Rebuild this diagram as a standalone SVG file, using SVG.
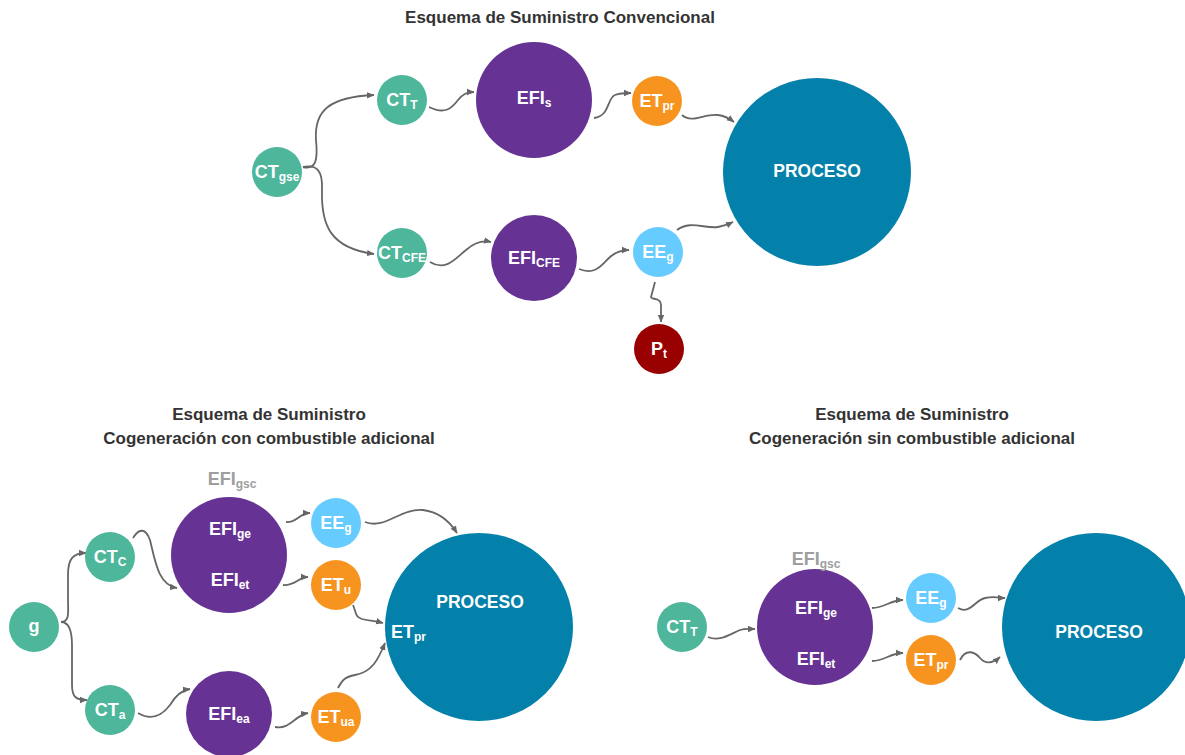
<svg xmlns="http://www.w3.org/2000/svg" width="1185" height="755" viewBox="0 0 1185 755">
<defs>
<style>
.title{font-family:"Liberation Sans",Arial,sans-serif;font-weight:bold;font-size:17px;fill:#333;text-anchor:middle}
.lbl{font-family:"Liberation Sans",Arial,sans-serif;font-weight:bold;font-size:18px;fill:#fff;text-anchor:middle}
.big{font-size:17.5px}
.gray{fill:#9e9e9e}
.sub{font-size:12px}
.teal{fill:#4db69b}
.purple{fill:#663395}
.orange{fill:#f7941f}
.blue{fill:#66ccff}
.proc{fill:#0481aa}
.red{fill:#990000}
.con path{fill:none;stroke:#666;stroke-width:1.8;marker-end:url(#arr)}
</style>
<marker id="arr" markerUnits="userSpaceOnUse" markerWidth="8" markerHeight="8" viewBox="0 0 8 8" refX="7" refY="4" orient="auto">
<path d="M0,0.8 L7.5,4 L0,7.2 Z" fill="#666"/>
</marker>
</defs>
<rect width="1185" height="755" fill="#fff"/>

<text class="title" x="560" y="23">Esquema de Suministro Convencional</text>
<text class="title" x="269" y="420">Esquema de Suministro</text>
<text class="title" x="269" y="444">Cogeneración con combustible adicional</text>
<text class="title" x="912" y="420">Esquema de Suministro</text>
<text class="title" x="912" y="444">Cogeneración sin combustible adicional</text>

<g class="con">
<path d="M303,167 C316,170 318,160 316,140 C314,110 330,97 374,95"/>
<path d="M303,167 C316,164 323,170 322,190 C321,225 330,248 374,254"/>
<path d="M429,107 C445,115 452,108 458,100 C463,94 467,92 474,92"/>
<path d="M594,118 C610,116 607,98 615,95 C620,93 625,93 631,93"/>
<path d="M682,115 C692,124 705,113 718,115 C726,116 730,119 734,122"/>
<path d="M430,262 C446,272 456,258 466,250 C474,243 482,240 491,242"/>
<path d="M579,269 C596,276 602,264 610,257 C617,251 623,250 629,250"/>
<path d="M677,230 C690,220 705,229 718,227 C725,226 729,224 733,222"/>
<path d="M655,282 L651,297 C651,300 661,297 661,305 L661,322"/>

<path d="M61,622 C70,622 68,612 68,600 L68,575 C68,560 72,553 86,553"/>
<path d="M61,622 C70,622 72,632 72,645 L72,685 C72,697 76,700 87,700"/>
<path d="M133,538 C138,530 145,526 150,540 C155,560 158,585 177,588"/>
<path d="M138,713 C150,720 160,718 170,705 C176,695 182,690 190,689"/>
<path d="M286,522 C297,523 299,513 310,513"/>
<path d="M283,585 C296,586 298,577 308,577"/>
<path d="M365,522 C385,530 400,508 423,510 C440,512 450,522 457,533"/>
<path d="M353,605 C356,612 355,617 362,619 C370,621 376,621 383,623"/>
<path d="M338,688 C342,680 345,677 355,675 C372,672 378,660 385,643"/>
<path d="M275,727 C290,730 295,715 308,713"/>

<path d="M708,637 C720,642 730,634 740,630 C746,628 750,629 755,629"/>
<path d="M872,608 C885,608 890,600 903,600"/>
<path d="M872,661 C885,661 890,653 903,653"/>
<path d="M958,608 C970,615 975,600 985,598 C995,596 1000,598 1005,598"/>
<path d="M960,660 C966,648 975,652 980,658 C985,664 992,664 1000,657"/>
</g>

<g id="top-ctgse"><circle class="teal" cx="277" cy="172" r="25"/><text class="lbl" x="277" y="178">CT<tspan class="sub" dy="3">gse</tspan></text></g>
<g id="top-ctt"><circle class="teal" cx="402" cy="100" r="25"/><text class="lbl" x="402" y="106">CT<tspan class="sub" dy="3">T</tspan></text></g>
<g id="top-efis"><circle class="purple" cx="534" cy="100" r="58"/><text class="lbl" x="534" y="104">EFI<tspan class="sub" dy="3">s</tspan></text></g>
<g id="top-etpr"><circle class="orange" cx="657" cy="101" r="25"/><text class="lbl" x="657" y="107">ET<tspan class="sub" dy="3">pr</tspan></text></g>
<g id="top-proceso"><circle class="proc" cx="817" cy="172" r="94"/><text class="lbl big" x="817" y="177">PROCESO</text></g>
<g id="top-ctcfe"><circle class="teal" cx="402" cy="253" r="25"/><text class="lbl" x="402" y="259">CT<tspan class="sub" dy="3">CFE</tspan></text></g>
<g id="top-eficfe"><circle class="purple" cx="534" cy="258" r="43"/><text class="lbl" x="534" y="264">EFI<tspan class="sub" dy="3">CFE</tspan></text></g>
<g id="top-eeg"><circle class="blue" cx="658" cy="252" r="25"/><text class="lbl" x="658" y="258">EE<tspan class="sub" dy="3">g</tspan></text></g>
<g id="top-pt"><circle class="red" cx="659" cy="349" r="25"/><text class="lbl" x="659" y="355">P<tspan class="sub" dy="3">t</tspan></text></g>

<g id="bl-g"><circle class="teal" cx="34" cy="627" r="25"/><text class="lbl" x="34" y="632">g</text></g>
<g id="bl-ctc"><circle class="teal" cx="110" cy="557" r="25"/><text class="lbl" x="110" y="563">CT<tspan class="sub" dy="3">C</tspan></text></g>
<g id="bl-cta"><circle class="teal" cx="110" cy="710" r="25"/><text class="lbl" x="110" y="716">CT<tspan class="sub" dy="3">a</tspan></text></g>
<g id="bl-efigsc"><circle class="purple" cx="229" cy="555" r="58"/>
<text class="lbl gray" x="232" y="485">EFI<tspan class="sub" dy="3">gsc</tspan></text>
<text class="lbl" x="230" y="535">EFI<tspan class="sub" dy="3">ge</tspan></text>
<text class="lbl" x="230" y="586">EFI<tspan class="sub" dy="3">et</tspan></text></g>
<g id="bl-efiea"><circle class="purple" cx="229" cy="714" r="43"/><text class="lbl" x="229" y="720">EFI<tspan class="sub" dy="3">ea</tspan></text></g>
<g id="bl-eeg"><circle class="blue" cx="336" cy="523" r="25"/><text class="lbl" x="336" y="529">EE<tspan class="sub" dy="3">g</tspan></text></g>
<g id="bl-etu"><circle class="orange" cx="336" cy="585" r="25"/><text class="lbl" x="336" y="591">ET<tspan class="sub" dy="3">u</tspan></text></g>
<g id="bl-etua"><circle class="orange" cx="336" cy="717" r="25"/><text class="lbl" x="336" y="723">ET<tspan class="sub" dy="3">ua</tspan></text></g>
<g id="bl-proceso"><circle class="proc" cx="479" cy="627" r="94"/><text class="lbl big" x="480" y="608">PROCESO</text>
<text class="lbl" x="391" y="638" style="text-anchor:start">ET<tspan class="sub" dy="3">pr</tspan></text></g>

<g id="br-ctt"><circle class="teal" cx="682" cy="627" r="25"/><text class="lbl" x="682" y="633">CT<tspan class="sub" dy="3">T</tspan></text></g>
<g id="br-efigsc"><circle class="purple" cx="815" cy="627" r="58"/>
<text class="lbl gray" x="816" y="565">EFI<tspan class="sub" dy="3">gsc</tspan></text>
<text class="lbl" x="816" y="614">EFI<tspan class="sub" dy="3">ge</tspan></text>
<text class="lbl" x="816" y="665">EFI<tspan class="sub" dy="3">et</tspan></text></g>
<g id="br-eeg"><circle class="blue" cx="931" cy="598" r="25"/><text class="lbl" x="931" y="604">EE<tspan class="sub" dy="3">g</tspan></text></g>
<g id="br-etpr"><circle class="orange" cx="931" cy="660" r="25"/><text class="lbl" x="931" y="666">ET<tspan class="sub" dy="3">pr</tspan></text></g>
<g id="br-proceso"><circle class="proc" cx="1096" cy="627" r="94"/><text class="lbl big" x="1099" y="638">PROCESO</text></g>
</svg>
